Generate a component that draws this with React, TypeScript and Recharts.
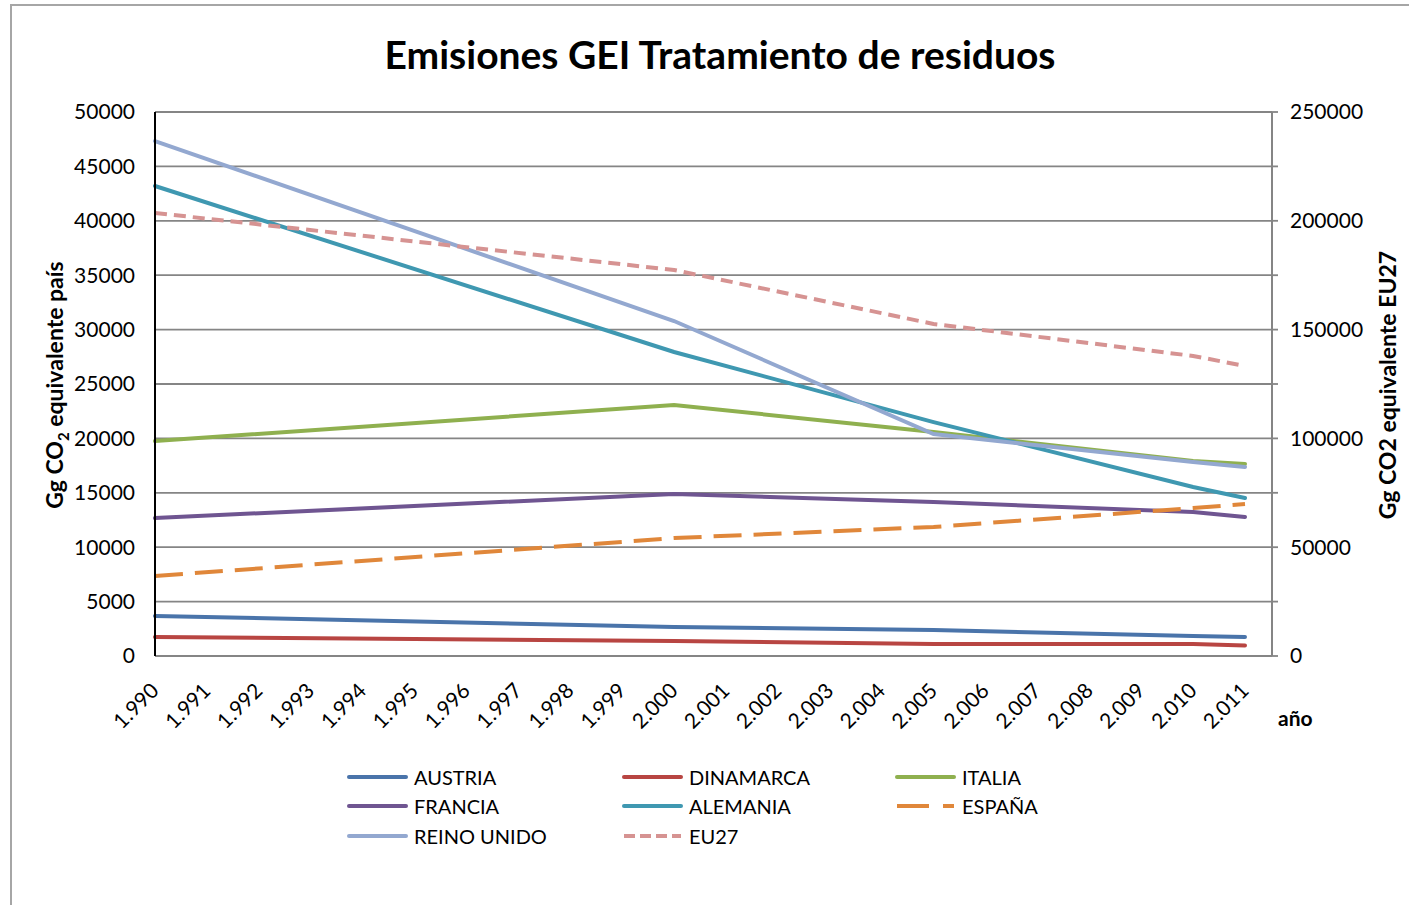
import React from 'react';
import { LineChart, Line, XAxis, YAxis, CartesianGrid } from 'recharts';

const FONT = 'Lato, "Open Sans", sans-serif';

const years = [
  '1.990', '1.991', '1.992', '1.993', '1.994', '1.995', '1.996', '1.997', '1.998', '1.999', '2.000',
  '2.001', '2.002', '2.003', '2.004', '2.005', '2.006', '2.007', '2.008', '2.009', '2.010', '2.011',
];
// years that actually carry values
const sampleYears = ['1.990', '2.000', '2.005', '2.010', '2.011'];

const austria = [3680, 2670, 2390, 1840, 1750];
const dinamarca = [1750, 1380, 1100, 1100, 960];
const italia = [19760, 23070, 20590, 17920, 17650];
const francia = [12680, 14890, 14150, 13230, 12770];
const alemania = [43200, 27940, 21500, 15530, 14520];
const espana = [7350, 10840, 11860, 13600, 13970];
const reinoUnido = [47330, 30790, 20400, 17830, 17370];
const eu27 = [203600, 177400, 152600, 137900, 133300];

const leftTicks = [0, 5000, 10000, 15000, 20000, 25000, 30000, 35000, 40000, 45000, 50000];
const rightTicks = [0, 25000, 50000, 75000, 100000, 125000, 150000, 175000, 200000, 225000, 250000];

const series = [
  { key: 'AUSTRIA', values: austria, color: '#4a74aa', dash: undefined, axis: 'left' },
  { key: 'DINAMARCA', values: dinamarca, color: '#b84542', dash: undefined, axis: 'left' },
  { key: 'ITALIA', values: italia, color: '#8fb04f', dash: undefined, axis: 'left' },
  { key: 'FRANCIA', values: francia, color: '#6f5591', dash: undefined, axis: 'left' },
  { key: 'ALEMANIA', values: alemania, color: '#3f98b1', dash: undefined, axis: 'left' },
  { key: 'ESPAÑA', values: espana, color: '#e0873a', dash: '28 12', axis: 'left' },
  { key: 'REINO UNIDO', values: reinoUnido, color: '#93a8d0', dash: undefined, axis: 'left' },
  { key: 'EU27', values: eu27, color: '#d69392', dash: '12 7', axis: 'right' },
];

const data = years.map((y) => {
  const i = sampleYears.indexOf(y);
  const row: Record<string, any> = { year: y };
  series.forEach((s) => {
    row[s.key] = i >= 0 ? s.values[i] : null;
  });
  return row;
});

const YearTick = (props: any) => {
  const { x, y, payload } = props;
  const tx = x + 5;
  const ty = y + 36;
  return (
    <text x={tx} y={ty} transform={`rotate(-45, ${tx}, ${ty})`} textAnchor="end"
      fontSize={21} fontFamily={FONT} fill="#000">
      {payload.value}
    </text>
  );
};

const Legend = () => {
  const cols = [347, 622, 895];
  const rows = [777, 806, 836];
  return (
    <>
      {series.map((s, i) => (
        <div key={s.key} style={{
          position: 'absolute', left: cols[i % 3], top: rows[Math.floor(i / 3)] - 12, height: 24,
          display: 'flex', alignItems: 'center', fontFamily: FONT, fontSize: 20, color: '#000',
        }}>
          <svg width={61} height={10} style={{ marginRight: 6 }}>
            <line x1={2} y1={5} x2={59} y2={5} stroke={s.color} strokeWidth={4}
              strokeDasharray={s.dash ? (s.key === 'EU27' ? '11 5' : '32 14') : undefined}
              strokeLinecap={s.dash ? 'butt' : 'round'} />
          </svg>
          <span>{s.key}</span>
        </div>
      ))}
    </>
  );
};

export default function App() {
  return (
    <div style={{ position: 'absolute', left: 0, top: 0, width: 1409, height: 905, background: '#fff', overflow: 'hidden' }}>
      <div style={{ position: 'absolute', left: 10, top: 4, width: 1420, height: 920, borderLeft: '2px solid #a6a6a6', borderTop: '2px solid #a6a6a6' }} />
      <div style={{ position: 'absolute', left: 0, width: 1440, top: 29, textAlign: 'center', fontFamily: FONT, fontWeight: 700, fontSize: 39, lineHeight: '50px', color: '#000' }}>
        Emisiones GEI Tratamiento de residuos
      </div>
      <div style={{ position: 'absolute', left: 0, top: 0 }}>
        <LineChart width={1409} height={905} data={data} margin={{ top: 112, right: 57, left: 95, bottom: 209 }}>
          <CartesianGrid yAxisId="left" vertical={false} stroke="#858585" strokeWidth={1.8} />
          <XAxis dataKey="year" interval={0} height={40} padding={{ left: 0, right: 27 }}
            axisLine={{ stroke: '#858585', strokeWidth: 2 }} tickLine={false} tickSize={0} tickMargin={0}
            tick={<YearTick />} />
          <YAxis yAxisId="left" domain={[0, 50000]} ticks={leftTicks} width={60} interval={0}
            axisLine={{ stroke: '#000', strokeWidth: 2 }} tickLine={false} tickSize={6} tickMargin={14}
            tick={{ fill: '#000', fontSize: 21, fontFamily: FONT }} />
          <YAxis yAxisId="right" orientation="right" domain={[0, 250000]} ticks={rightTicks} width={80} interval={0}
            axisLine={{ stroke: '#858585', strokeWidth: 2 }} tickLine={{ stroke: '#858585', strokeWidth: 1.8 }}
            tickSize={6} tickMargin={12}
            tickFormatter={(v: number) => (v % 50000 === 0 ? String(v) : '')}
            tick={{ fill: '#000', fontSize: 21, fontFamily: FONT }} />
          {series.map((s) => (
            <Line key={s.key} yAxisId={s.axis} type="linear" dataKey={s.key} stroke={s.color} strokeWidth={4}
              strokeDasharray={s.dash} strokeLinecap={s.dash ? 'butt' : 'round'} dot={false} activeDot={false}
              connectNulls isAnimationActive={false} />
          ))}
        </LineChart>
      </div>
      <svg style={{ position: 'absolute', left: 0, top: 0, pointerEvents: 'none' }} width={1409} height={905}>
        <text transform="translate(63, 385) rotate(-90)" textAnchor="middle" fontFamily={FONT} fontWeight={700} fontSize={23} fill="#000">
          Gg CO<tspan fontSize={15} dy={6}>2</tspan><tspan dy={-6}> equivalente país</tspan>
        </text>
        <text transform="translate(1396, 385) rotate(-90)" textAnchor="middle" fontFamily={FONT} fontWeight={700} fontSize={23} fill="#000">
          Gg CO2 equivalente EU27
        </text>
        <text x={1278} y={726} fontFamily={FONT} fontWeight={700} fontSize={21} fill="#000">año</text>
      </svg>
      <Legend />
    </div>
  );
}
